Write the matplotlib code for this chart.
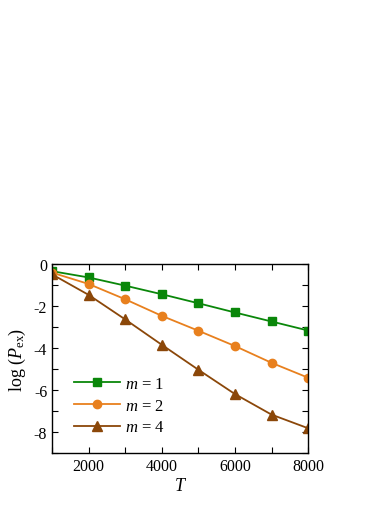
import numpy as np
import matplotlib
matplotlib.use("Agg")
import matplotlib.pyplot as plt
from matplotlib.ticker import MultipleLocator

plt.rcParams['font.family'] = ['Liberation Serif', 'DejaVu Serif']
plt.rcParams['mathtext.fontset'] = 'custom'
plt.rcParams['mathtext.rm'] = 'Liberation Serif'
plt.rcParams['mathtext.it'] = 'Liberation Serif:italic'

# data
T = [1000, 2000, 3000, 4000, 5000, 6000, 7000, 8000]
m1 = [-0.33, -0.63, -1.02, -1.43, -1.86, -2.30, -2.73, -3.16]
m2 = [-0.40, -0.94, -1.67, -2.46, -3.17, -3.90, -4.70, -5.41]
m4 = [-0.48, -1.46, -2.63, -3.84, -5.03, -6.19, -7.17, -7.82]

fig = plt.figure(figsize=(3.91, 5.06), dpi=100)
ax = fig.add_axes([0.133, 0.1028, 0.655, 0.373])

ax.plot(T, m1, color='#0a870a', marker='s', ms=5.5, lw=1.3, label=r'$m$ = 1')
ax.plot(T, m2, color='#e8801e', marker='o', ms=6, lw=1.3, label=r'$m$ = 2')
ax.plot(T, m4, color='#8b4709', marker='^', ms=6.5, lw=1.3, label=r'$m$ = 4')

ax.set_xlim(1000, 8000)
ax.set_ylim(-9, 0)
ax.xaxis.set_major_locator(MultipleLocator(2000))
ax.xaxis.set_minor_locator(MultipleLocator(1000))
ax.yaxis.set_minor_locator(MultipleLocator(1))
ax.tick_params(which='both', direction='in', top=True, right=True,
               length=4, width=0.8, labelsize=11.5)
ax.set_yticks([0, -2, -4, -6, -8])
ax.set_yticklabels(['0', '-2', '-4', '-6', '-8'])
for s in ax.spines.values():
    s.set_linewidth(1.0)

ax.set_xlabel(r'$T$', fontsize=13, labelpad=2)
ax.set_ylabel(r'log ($P_{\rm ex}$)', fontsize=13, labelpad=4)

ax.legend(loc='lower left', bbox_to_anchor=(0.045, 0.04), frameon=False,
          fontsize=12, handlelength=2.8, labelspacing=0.35, handletextpad=0.3,
          borderaxespad=0.2)

fig.savefig('out.png', dpi=100)
